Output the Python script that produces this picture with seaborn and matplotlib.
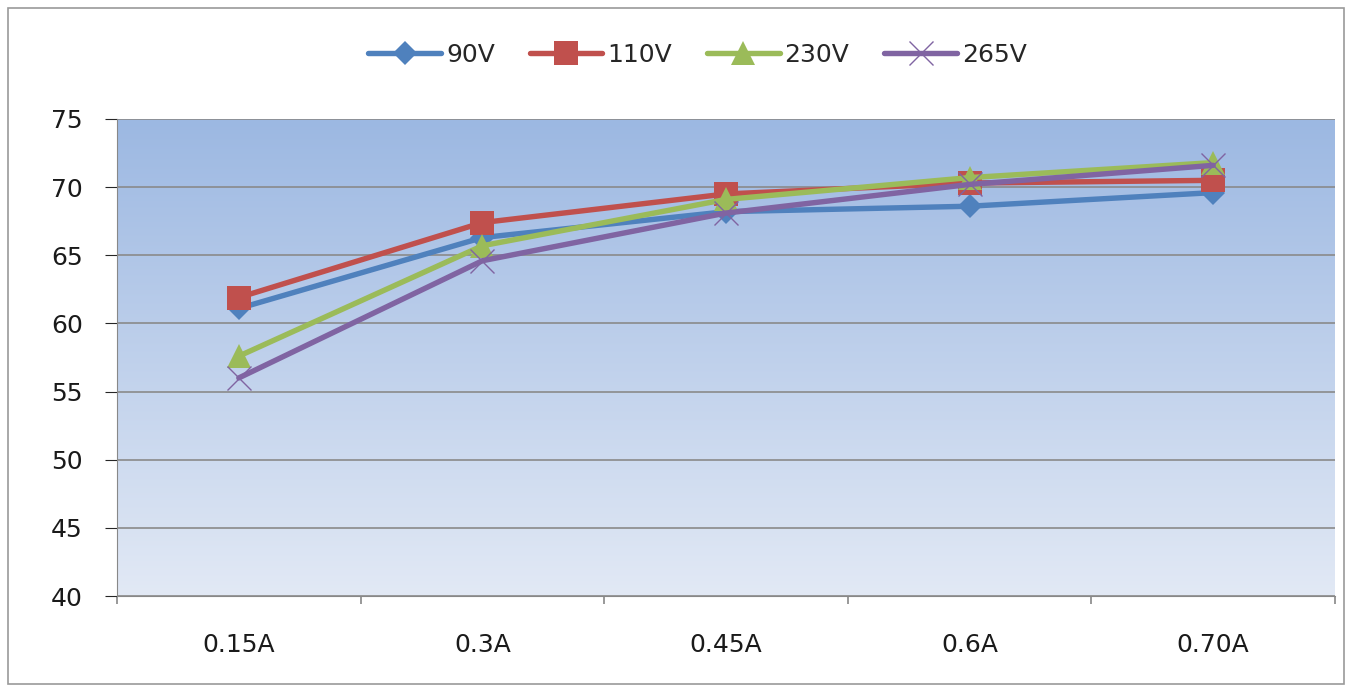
import numpy as np
import pandas as pd
import matplotlib
matplotlib.use("Agg")
import matplotlib.pyplot as plt
import seaborn as sns
from matplotlib.colors import LinearSegmentedColormap
from matplotlib.patches import Rectangle

categories = ["0.15A", "0.3A", "0.45A", "0.6A", "0.70A"]
v90 = [61.1, 66.3, 68.2, 68.6, 69.6]
v110 = [61.9, 67.4, 69.5, 70.3, 70.5]
v230 = [57.6, 65.7, 69.1, 70.7, 71.8]
v265 = [56.0, 64.6, 68.1, 70.2, 71.6]
series_names = ["90V", "110V", "230V", "265V"]
y_ticks = [40, 45, 50, 55, 60, 65, 70, 75]

colors = ["#4F81BD", "#C0504D", "#9BBB59", "#8064A2"]
markers = ["D", "s", "^", "x"]
msizes = [12, 17, 17, 17]

rows = []
for name, vals in zip(series_names, [v90, v110, v230, v265]):
    for c, v in zip(categories, vals):
        rows.append({"load": c, "eff": v, "series": name})
df = pd.DataFrame(rows)

sns.set_style("white")
plt.rcParams["font.family"] = ["DejaVu Sans"]
plt.rcParams["xtick.bottom"] = True
plt.rcParams["ytick.left"] = True
plt.rcParams["xtick.minor.bottom"] = True
plt.rcParams["ytick.minor.left"] = True

FS = 18

fig = plt.figure(figsize=(13.52, 6.92), dpi=100)
ax = fig.add_axes([117/1352, 1-596/692, (1335-117)/1352, (596-119)/692])

# gradient background
cmap = LinearSegmentedColormap.from_list("g", ["#E2E9F5", "#9CB8E2"])
grad = np.linspace(0, 1, 256).reshape(-1, 1)
ax.imshow(grad, cmap=cmap, aspect="auto", origin="lower",
          extent=[-0.5, 4.5, 40, 75], zorder=0)

for i, name in enumerate(series_names):
    sub = df[df["series"] == name]
    sns.lineplot(data=sub, x="load", y="eff", ax=ax, color=colors[i],
                 marker=markers[i], markersize=msizes[i], linewidth=3.9,
                 markeredgecolor=colors[i], markeredgewidth=1.0 if markers[i] == "x" else 0,
                 label=name, zorder=3 + i, sort=False)

ax.set_xlim(-0.5, 4.5)
ax.set_ylim(40, 75)
ax.set_yticks(y_ticks)
ax.set_yticklabels([str(t) for t in y_ticks], fontsize=FS)
ax.set_yticks(y_ticks, minor=True)
ax.set_xticks(range(len(categories)))
ax.set_xticklabels(categories, fontsize=FS, color="#1A1A1A")
ax.set_xticks(np.arange(-0.5, 5, 1), minor=True)
ax.tick_params(axis="x", which="major", length=0, pad=27, bottom=True)
ax.tick_params(axis="x", which="minor", length=6, color="#888888", width=1.2,
               bottom=True, direction="out")
ax.set_xlabel("")
ax.set_ylabel("")
ax.yaxis.grid(True, which="major", color="#8A8A8A", linewidth=1.2, zorder=1)
ax.tick_params(axis="y", which="major", length=8.6, pad=16, left=True,
               labelcolor="#1A1A1A")
ax.tick_params(axis="y", which="minor", length=8.6, color="#888888", width=1.2,
               left=True, direction="out")
for s in ["top", "right"]:
    ax.spines[s].set_visible(False)
ax.spines["left"].set_color("#888888")
ax.spines["bottom"].set_color("#888888")

ax.get_legend().remove()
handles, labels = ax.get_legend_handles_labels()
fig.legend(handles, labels, loc="center", bbox_to_anchor=(0.516, 1-55/692),
           ncol=4, frameon=False, fontsize=FS, handlelength=2.9,
           columnspacing=1.4, handletextpad=0.2)

fig.patches.append(Rectangle((8/1352, 8/692), 1336/1352, 676/692,
                             transform=fig.transFigure, fill=False,
                             edgecolor="#9A9A9A", linewidth=1.2))

fig.savefig("out.png", dpi=100, facecolor="white")
